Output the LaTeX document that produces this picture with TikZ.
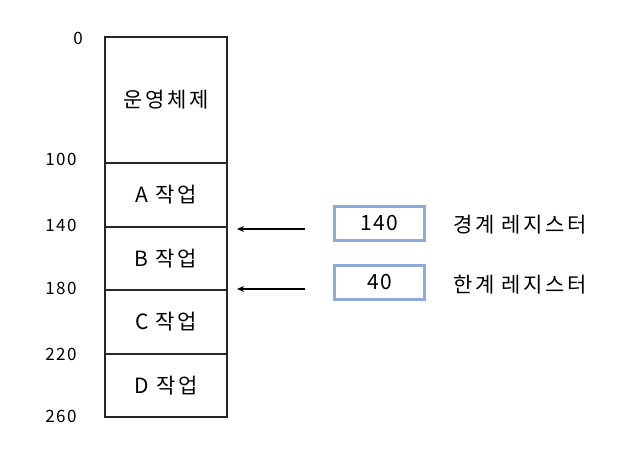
\documentclass[tikz,border=0pt]{standalone}
\usepackage{fontspec}
\setmainfont{Noto Sans CJK KR}
\newfontfamily\widefont[LetterSpace=12]{Noto Sans CJK KR}
\newfontfamily\numfont[LetterSpace=8]{Noto Sans CJK KR}
\usetikzlibrary{arrows.meta}
\definecolor{regblue}{HTML}{8EA9DB}
\begin{document}
\begin{tikzpicture}[x=1pt,y=-1pt,
  mem/.style={draw=black!85,line width=1.1pt,outer sep=0pt,minimum width=122pt,inner sep=0pt,font=\widefont\fontsize{21}{23}\selectfont},
  addr/.style={font=\numfont\fontsize{17}{19}\selectfont,anchor=east},
  reg/.style={draw=regblue,line width=2.6pt,minimum width=90pt,minimum height=34pt,inner sep=0pt,font=\numfont\fontsize{21}{23}\selectfont},
  reglabel/.style={font=\widefont\fontsize{21}{23}\selectfont,anchor=west},
  ptr/.style={line width=1.8pt,-{Stealth[length=7pt,width=6pt]}}]
\useasboundingbox (0,0) rectangle (636,456);
\node[mem,minimum height=126pt,anchor=north west] (os) at (105,37) {운영체제};
\node[mem,minimum height=64pt,anchor=north] (a) at (os.south) {A 작업};
\node[mem,minimum height=63pt,anchor=north] (b) at (a.south) {B 작업};
\node[mem,minimum height=64pt,anchor=north] (c) at (b.south) {C 작업};
\node[mem,minimum height=63pt,anchor=north] (d) at (c.south) {D 작업};
\node[addr,anchor=center] (l0) at (78,38) {0};
\node[addr] (l100) at (80,159) {100};
\node[addr] (l140) at (80,225) {140};
\node[addr] (l180) at (80,288) {180};
\node[addr] (l220) at (80,354) {220};
\node[addr] (l260) at (80,416) {260};
\node[reg] (r1) at (379.5,223.5) {140};
\node[reg] (r2) at (379.5,282.5) {40};
\node[reglabel] (t1) at (450,225) {경계 레지스터};
\node[reglabel] (t2) at (450,285) {한계 레지스터};
\coordinate (s1) at (305,229);
\coordinate (e1) at (237,229);
\coordinate (s2) at (305,289);
\coordinate (e2) at (237,289);
\draw[ptr] (s1) -- (e1);
\draw[ptr] (s2) -- (e2);
\end{tikzpicture}
\end{document}
